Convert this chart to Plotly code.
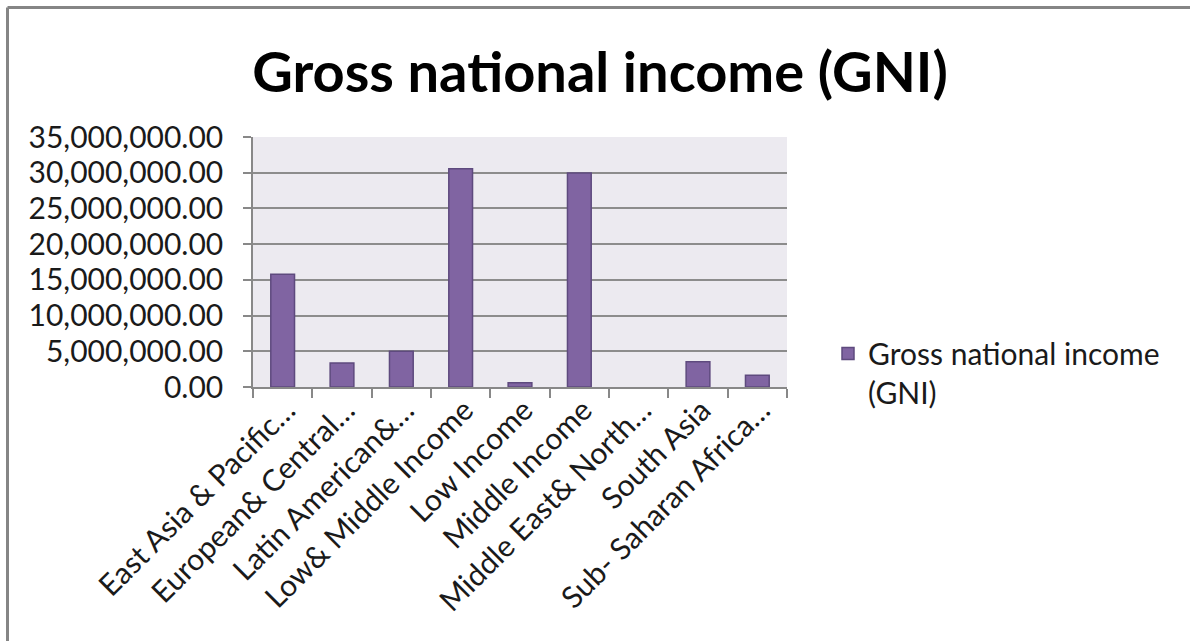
import plotly.graph_objects as go

categories = [
    "East Asia & Pacific…",
    "European& Central…",
    "Latin American&…",
    "Low& Middle Income",
    "Low Income",
    "Middle Income",
    "Middle East& North…",
    "South Asia",
    "Sub- Saharan Africa…",
]
gni_values = [15770000, 3360000, 5000000, 30560000, 610000, 29960000, 0, 3550000, 1630000]
series_name = "Gross national income<br>(GNI)"
y_ticks = [0, 5000000, 10000000, 15000000, 20000000, 25000000, 30000000, 35000000]

FONT = "Lato"
W, H = 1190, 641
L, R, T, B = 253, 787, 137, 387

fig = go.Figure()
fig.add_trace(go.Bar(
    x=categories, y=gni_values, name=series_name,
    marker=dict(color="#8064A2",
                line=dict(color="#5E4A7E", width=[1.5 if v > 0 else 0 for v in gni_values])),
    showlegend=True,
))

pw = R - L
ph = B - T
def px_x(p):
    return (p - L) / pw
def px_y(p):
    return (B - p) / ph

fig.update_layout(
    width=W, height=H,
    margin=dict(l=L, r=W - R, t=T, b=H - B, autoexpand=False),
    paper_bgcolor="white",
    plot_bgcolor="#ECEAF0",
    bargap=0.6,
    font=dict(family=FONT, size=30, color="#1a1a1a"),
    title=dict(
        text="<b>Gross national income (GNI)</b>",
        font=dict(family=FONT, size=56, color="black"),
        x=600 / W, xref="container", xanchor="center",
        y=1 - 72 / H, yref="container", yanchor="middle",
    ),
    showlegend=True,
    legend=dict(
        x=px_x(828), y=px_y(373), xanchor="left", yanchor="middle",
        font=dict(family=FONT, size=30, color="#1a1a1a"),
        bgcolor="rgba(0,0,0,0)", itemwidth=30, valign="top",
    ),
    xaxis=dict(
        type="category", tickangle=-45, tickson="boundaries",
        ticks="outside", ticklen=9, tickcolor="#888888", tickwidth=1.5,
        showline=True, linecolor="#888888", linewidth=1.5,
        showgrid=False, automargin=False,
        ticklabelstandoff=-8, ticklabelshift=4,
        tickfont=dict(family=FONT, size=30, color="#1a1a1a"),
    ),
    yaxis=dict(
        range=[0, 35000000], tickvals=y_ticks, tickformat=",.2f",
        ticks="outside", ticklen=8, tickcolor="#888888", tickwidth=1.5,
        showline=True, linecolor="#888888", linewidth=1.5,
        showgrid=True, gridcolor="#8C8C8C", gridwidth=1.5,
        zeroline=False, automargin=False, ticklabelstandoff=14,
        tickfont=dict(family=FONT, size=30, color="#1a1a1a"),
    ),
)

# outer chart border (only top and left edges fall inside the picture)
border = dict(color="#858585", width=3)
fig.add_shape(type="line", xref="paper", yref="paper",
              x0=px_x(7.5), x1=px_x(1200), y0=px_y(7.5), y1=px_y(7.5), line=border, layer="above")
fig.add_shape(type="line", xref="paper", yref="paper",
              x0=px_x(7.5), x1=px_x(7.5), y0=px_y(7.5), y1=px_y(660), line=border, layer="above")

fig.write_html("out.html")
